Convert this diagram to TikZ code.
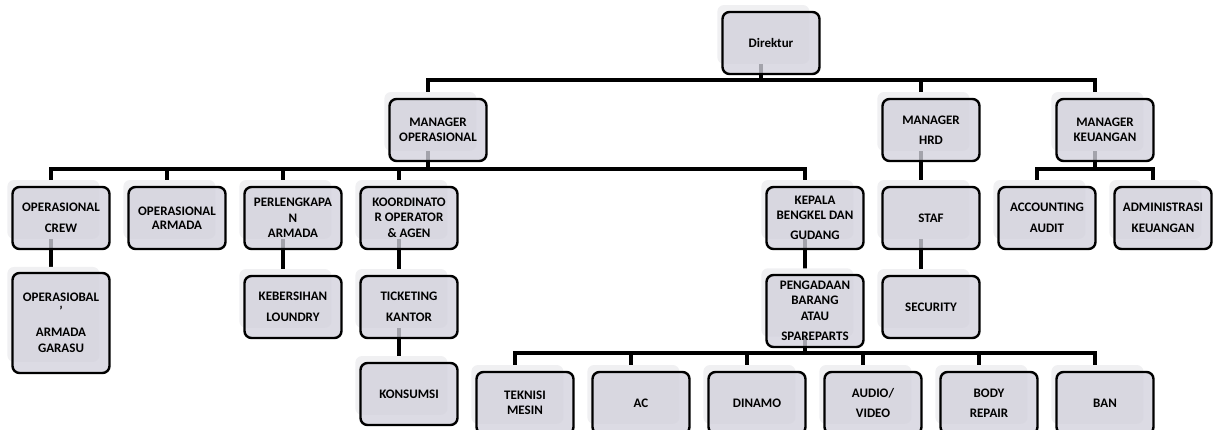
\documentclass[tikz,border=0pt]{standalone}
\usepackage{fontspec}
\setmainfont{Carlito}
\usetikzlibrary{shadows,backgrounds}
\definecolor{boxfill}{RGB}{210,209,220}
\definecolor{shadefill}{RGB}{240,240,242}
\begin{document}
\begin{tikzpicture}[x=1pt,y=-1pt]
	\tikzset{unit/.style={draw=black,line width=2.4pt,rounded corners=7pt,fill=boxfill,
	           fill opacity=0.78,text opacity=1,minimum width=97pt,minimum height=62pt,
	           inner sep=1pt,align=center,font=\fontsize{13}{14.5}\selectfont\bfseries,
	           general shadow={fill=shadefill,fill opacity=1,shadow xshift=-8pt,
	                           shadow yshift=9pt,shadow scale=0.95}},
	         link/.style={line width=4.5pt,draw=black}}
	\useasboundingbox (0,0) rectangle (1220,429);
	\clip (0,0) rectangle (1220,429);
	\coordinate (bus0) at (0,80);
	\coordinate (bus1) at (0,169);
	\coordinate (bus2) at (0,353);
	% top
	\node[unit] (dir) at (771,43) {Direktur};
	\node[unit] (mo) at (438,130) {MANAGER\\OPERASIONAL};
	\node[unit] (hrd) at (931,130) {MANAGER\\[6pt]HRD};
	\node[unit] (mk) at (1105,130) {MANAGER\\KEUANGAN};
	% second row
	\node[unit] (crew) at (61,218) {OPERASIONAL\\[6pt]CREW};
	\node[unit] (armada) at (177,218) {OPERASIONAL\\ARMADA};
	\node[unit] (lengkap) at (293,218) {PERLENGKAPA\\[1pt]N\\[1pt]ARMADA};
	\node[unit] (koord) at (409,218) {KOORDINATO\\R OPERATOR\\[2pt]\& AGEN};
	\node[unit] (kepala) at (815,218) {KEPALA\\BENGKEL DAN\\[6pt]GUDANG};
	\node[unit] (staf) at (931,218) {STAF};
	\node[unit] (acc) at (1047,218) {ACCOUNTING\\[6pt]AUDIT};
	\node[unit] (adm) at (1163,218) {ADMINISTRASI\\[6pt]KEUANGAN};
	% third row
	\node[unit,minimum height=100pt] (garasu) at (61,323) {OPERASIOBAL\\'\\[6pt]ARMADA\\[2pt]GARASU};
	\node[unit] (bersih) at (293,307) {KEBERSIHAN\\[6pt]LOUNDRY};
	\node[unit] (ticket) at (409,307) {TICKETING\\[6pt]KANTOR};
	\node[unit] (konsumsi) at (409,394) {KONSUMSI};
	\node[unit,minimum height=72pt] (sparepart) at (815,311) {PENGADAAN\\[1pt]BARANG\\[1pt]ATAU\\[6pt]SPAREPARTS};
	\node[unit] (security) at (931,307) {SECURITY};
	% bottom row
	\node[unit] (mesin) at (525,403) {TEKNISI\\MESIN};
	\node[unit] (ac) at (641,403) {AC};
	\node[unit] (dinamo) at (757,403) {DINAMO};
	\node[unit] (audio) at (873,403) {AUDIO/\\[6pt]VIDEO};
	\node[unit] (body) at (989,403) {BODY\\[6pt]REPAIR};
	\node[unit] (ban) at (1105,403) {BAN};
	% connectors
	\begin{scope}[on background layer]
	\draw[link] ([xshift=-10pt,yshift=12pt]dir.south) -- ([xshift=-10pt]dir.south |- bus0);
	\draw[link] ([xshift=-10pt]mo.north) |- ([xshift=-10pt]mk.north |- bus0) -- ([xshift=-10pt]mk.north);
	\draw[link] ([xshift=-10pt]hrd.north) -- ([xshift=-10pt]hrd.north |- bus0);
	\draw[link] ([xshift=-10pt,yshift=12pt]mo.south) -- ([xshift=-10pt]mo.south |- bus1);
	\draw[link] ([xshift=-10pt]crew.north) |- ([xshift=-10pt]kepala.north |- bus1) -- ([xshift=-10pt]kepala.north);
	\foreach \n in {armada,lengkap,koord}
		\draw[link] ([xshift=-10pt]\n.north) -- ([xshift=-10pt]\n.north |- bus1);
	\draw[link] ([xshift=-10pt,yshift=12pt]mk.south) -- ([xshift=-10pt]mk.south |- bus1);
	\draw[link] ([xshift=-10pt]acc.north) |- ([xshift=-10pt]adm.north |- bus1) -- ([xshift=-10pt]adm.north);
	\foreach \a/\b in {crew/garasu,lengkap/bersih,koord/ticket,ticket/konsumsi,
	                   hrd/staf,staf/security,kepala/sparepart}
		\draw[link] ([xshift=-10pt,yshift=12pt]\a.south) -- ([xshift=-10pt]\b.north);
	\draw[link] ([xshift=-10pt,yshift=12pt]sparepart.south) -- ([xshift=-10pt]sparepart.south |- bus2);
	\draw[link] ([xshift=-10pt]mesin.north) |- ([xshift=-10pt]ban.north |- bus2) -- ([xshift=-10pt]ban.north);
	\foreach \n in {ac,dinamo,audio,body}
		\draw[link] ([xshift=-10pt]\n.north) -- ([xshift=-10pt]\n.north |- bus2);
	\end{scope}
\end{tikzpicture}
\end{document}
